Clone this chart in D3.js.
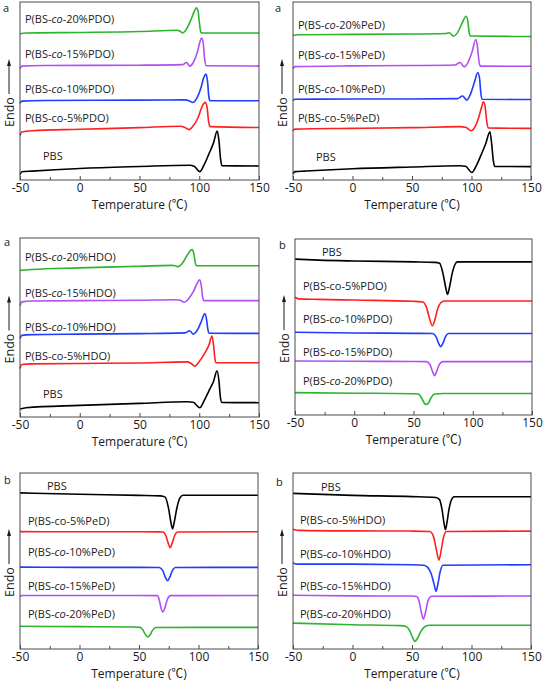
<!DOCTYPE html>
<html><head><meta charset="utf-8">
<script src="https://cdn.jsdelivr.net/npm/d3@7"></script>
<style>body{margin:0;background:#fff}svg{display:block}</style>
</head><body>
<svg id="c" width="543" height="681"></svg>
<script>
// ---------------- DATA ----------------
const temperatureTicks = [-50, 0, 50, 100, 150];
const minorTemperatureTicks = [-25, 25, 75, 125];
const compositions = ["PBS", "5%", "10%", "15%", "20%"];
const diols = ["PDO", "PeD", "HDO"];

// Heating scans (a): [temperature (°C), heat flow (a.u., offset)]
const aPDO_PBS = [[-50,3.0],[-48.5,4.6],[-40,5.0],[0,6.5],[50,7.6],[92,8.3],[96,7.6],[100.5,4.7],[104,8.5],[108,14.5],[112,21],[115,27.5],[116.5,22],[117.8,12],[119,8.0],[150,7.9]];
const aPDO_5 = [[-50,25.0],[-48.5,27.0],[-40,27.7],[0,28.5],[50,29.4],[84,30.2],[88,29.5],[91.5,28.3],[95,30.5],[99,35],[102.5,41.5],[105,43.6],[106.5,41],[107.8,33],[109,30],[150,29.5]];
const aPDO_10 = [[-50,43.0],[-48.5,44.3],[-30,44.7],[50,44.9],[88,45.0],[91.5,44.5],[94.5,43.5],[98,46],[101.5,52],[104,58],[105.7,59.5],[107,55],[108,47],[109,44.6],[150,44.5]];
const aPDO_15 = [[-50,62.6],[-48.5,64.0],[-30,64.3],[50,64.5],[86,64.8],[89.5,66.0],[92,64.0],[95,66],[98.5,72],[100.5,77.5],[102,79.8],[103.3,77],[104.5,68],[105.8,64.2],[150,64.0]];
const aPDO_20 = [[-50,82.2],[-45,82.6],[0,82.9],[50,83.4],[81,84.1],[84,83.6],[86,82.6],[89,84.5],[93,90],[96,95],[97.6,96.8],[99,95],[100.2,88],[101.3,83],[103,82.6],[150,82.6]];

const aPeD_PBS = [[-50,3.5],[-48.5,4.7],[-40,5.0],[0,6.3],[50,7.3],[90,8.0],[95,7.7],[100.3,4.2],[104,8],[108,14],[112,20.5],[115.5,27.1],[117,20],[118.3,11],[119.5,7.6],[150,7.5]];
const aPeD_5 = [[-50,27.6],[-48.5,28.6],[0,29.0],[50,29.4],[90,30.0],[95,29.6],[99.7,27.7],[103,30],[106,35],[108.5,41],[110,43.9],[111.5,41],[112.8,33],[114,29.3],[150,29.0]];
const aPeD_10 = [[-50,44.6],[-48.5,45.4],[0,45.5],[50,45.5],[88,45.7],[92.5,47.2],[96,44.9],[99,48],[102.5,55],[105.3,60.4],[106.8,57],[107.8,49],[108.8,45.4],[150,45.2]];
const aPeD_15 = [[-50,62.6],[-48.5,63.7],[0,64.1],[50,64.3],[86,64.6],[90.5,66.0],[93.8,63.6],[97,66],[100.5,72],[103.6,78.9],[105,75],[106.2,67],[107.3,64.0],[150,63.9]];
const aPeD_20 = [[-50,81.3],[-45,81.6],[0,81.8],[50,82.0],[78,82.3],[81.3,82.7],[84.9,80.8],[88,82.5],[92,88],[95.5,92.0],[97,89],[98,83],[99.2,80.9],[150,80.6]];

const aHDO_PBS = [[-50,4.5],[-45,5.2],[0,6.5],[50,7.6],[90,8.5],[95,8.2],[100.4,5.2],[104,9],[108,14.5],[112,20],[114.9,25.8],[116.5,20],[117.7,11],[119,8.1],[150,8.0]];
const aHDO_5 = [[-50,27.1],[-48.5,29.3],[-40,29.7],[0,29.9],[50,30.2],[90,30.8],[93,30],[96.3,28.4],[100,31],[104,35],[108,40],[110.7,45.2],[112,40],[113,33],[114,30.4],[150,30.3]];
const aHDO_10 = [[-50,43.9],[-48.5,45.6],[-40,46.0],[0,46.3],[50,46.6],[88,47.0],[92,48.2],[94.9,46.3],[98,48],[101.5,53],[104.6,57.6],[106,55],[107.2,49],[108.4,46.8],[150,46.7]];
const aHDO_15 = [[-50,62.1],[-48.5,64.3],[-40,64.8],[0,65.0],[50,65.2],[80,65.5],[84,65.2],[87.5,64.1],[91,66],[95,70],[98.5,75],[100.4,76.6],[101.8,73],[102.8,67],[104,65.0],[150,65.0]];
const aHDO_20 = [[-50,81.9],[-40,82.4],[0,83.3],[50,84.2],[77,84.7],[80,84.5],[82.3,84.0],[86,86],[90,90.5],[94,93.5],[95.5,91],[96.7,86],[97.8,84.5],[150,84.5]];

// Cooling scans (b)
const bPDO_PBS = [[-50,88.6],[-30,88.0],[0,87.5],[50,87.0],[68,86.7],[72,86.2],[75,80],[77.3,72],[78.7,68.5],[80.2,72],[82.5,80],[85,85.5],[87,87.0],[150,87.0]];
const bPDO_5 = [[-50,66.9],[-47,66.0],[-30,65.7],[0,65.3],[50,64.6],[58,64.2],[61,61],[63.5,55],[65.8,50.7],[68,54],[70.5,60.5],[73,63.8],[76,64.8],[150,64.8]];
const bPDO_10 = [[-50,47.0],[0,46.6],[50,46.4],[66,46.3],[69,44.5],[71.3,40.5],[73,38.8],[74.7,40.5],[77,44.5],[79.5,46.3],[150,46.3]];
const bPDO_15 = [[-50,30.7],[0,30.5],[50,30.4],[61,30.3],[64,28.5],[66.2,24.5],[67.8,22.4],[69.4,24.5],[71.6,28.5],[74.5,30.3],[150,30.3]];
const bPDO_20 = [[-50,12.7],[0,12.4],[50,12.1],[54,11.9],[57,9.5],[59.3,6.6],[61,6.0],[62.8,7],[65,10],[68,11.9],[75,12.2],[150,12.2]];

const bPeD_PBS = [[-50,88.7],[0,87.9],[50,87.3],[68,87.0],[72,86.3],[74.8,80],[76.8,72],[78.2,68.2],[79.6,72],[81.8,80],[84.5,86],[87,87.4],[150,87.4]];
const bPeD_5 = [[-50,66.7],[0,66.6],[50,66.6],[70,66.5],[72.5,64.5],[74.6,60],[76.2,57.6],[77.8,60],[80,64.5],[82.5,66.5],[150,66.6]];
const bPeD_10 = [[-50,46.5],[0,46.4],[50,46.4],[67,46.3],[70,44.5],[72.3,40.5],[74,38.8],[75.7,40.5],[78,44.5],[80.5,46.3],[150,46.4]];
const bPeD_15 = [[-50,29.8],[-48,30.4],[0,30.4],[50,30.4],[65.5,30.3],[67,28],[68.4,23.5],[70,21.0],[71.8,23.5],[74,28.5],[76.5,30.3],[150,30.4]];
const bPeD_20 = [[-50,12.9],[0,12.7],[45,12.5],[51,12.3],[53.5,10.5],[55.8,7.8],[57.4,6.9],[59,7.8],[61.3,10.5],[64,12.2],[150,12.3]];

const bHDO_PBS = [[-50,88.4],[0,87.3],[50,86.6],[70,86.1],[73,85],[75.3,79],[76.9,71.5],[78.1,67.8],[79.3,71.5],[81,79],[83,84.5],[85.5,86.5],[150,86.5]];
const bHDO_5 = [[-50,68.1],[-45,67.4],[0,67.1],[50,67.0],[65,66.8],[68,64],[70.3,57],[72.6,50.5],[74.5,56],[76.5,63.5],[79,66.8],[150,67.0]];
const bHDO_10 = [[-50,48.9],[-46,48.2],[0,48.2],[50,47.9],[60,47.6],[63,46.5],[66,43],[68.5,37],[70.2,32.8],[71.8,37],[73.7,44],[76,47.6],[150,47.9]];
const bHDO_15 = [[-50,30.5],[0,30.2],[50,30.1],[54,29.8],[56,27],[57.8,21],[59.6,17.0],[61.4,21],[63.5,27.5],[66.5,30],[150,30.1]];
const bHDO_20 = [[-50,14.7],[0,13.8],[40,13.3],[45,12.8],[48,10.5],[50.5,6.5],[52.4,4.3],[54.5,6],[57.5,10],[61,12.8],[65,13.5],[150,13.5]];

// ---------------- LAYOUT ----------------
const colors = ["#000000", "#ff1f1f", "#1f3cff", "#b24ef2", "#2cb42c"];
const panels = [
  {box:[20,2,259,180], letter:"a", lp:[3,12], diol:0, curves:[aPDO_PBS,aPDO_5,aPDO_10,aPDO_15,aPDO_20], ly:[13.5,34.7,51,70.6,90.4], lx:[23,5]},
  {box:[293,2,531,180], letter:"a", lp:[275,12], diol:1, curves:[aPeD_PBS,aPeD_5,aPeD_10,aPeD_15,aPeD_20], ly:[13.1,34.7,51,70.2,87.1], lx:[23,5]},
  {box:[20,238,259,417], letter:"a", lp:[4,246], diol:2, curves:[aHDO_PBS,aHDO_5,aHDO_10,aHDO_15,aHDO_20], ly:[12.8,34.1,50.4,69.4,89.6], lx:[23,5]},
  {box:[295,239,532,415], letter:"b", lp:[279,249], diol:0, curves:[bPDO_PBS,bPDO_5,bPDO_10,bPDO_15,bPDO_20], ly:[92.4,73.3,54.4,36.0,19.5], lx:[27,8]},
  {box:[20,473,258,649], letter:"b", lp:[4,484], diol:1, curves:[bPeD_PBS,bPeD_5,bPeD_10,bPeD_15,bPeD_20], ly:[92.8,72.9,55.3,35.8,19.9], lx:[27,8]},
  {box:[293,473,531,649], letter:"b", lp:[276,486], diol:2, curves:[bHDO_PBS,bHDO_5,bHDO_10,bHDO_15,bHDO_20], ly:[91.9,73,54.1,35.8,19.8], lx:[28,7]}
];

const FONT = "'Open Sans', 'Noto Sans', sans-serif";
const CJK = "'Noto Sans CJK SC', 'Noto Sans CJK JP', sans-serif";
const svg = d3.select("#c");
const txtColor = "#1a1a1a";

panels.forEach(p => {
  const [x0,y0,x1,y1] = p.box;
  const x = d3.scaleLinear().domain([-50,150]).range([x0,x1]);
  const y = d3.scaleLinear().domain([0,100]).range([y1,y0]);
  const g = svg.append("g");

  // curves
  const line = d3.line().x(d=>x(d[0])).y(d=>y(d[1])).curve(d3.curveMonotoneX);
  p.curves.forEach((c,i) => {
    g.append("path").datum(c).attr("d", line)
      .attr("fill","none").attr("stroke",colors[i]).attr("stroke-width",1.6)
      .attr("stroke-linejoin","round");
  });

  // frame
  g.append("rect").attr("x",x0).attr("y",y0).attr("width",x1-x0).attr("height",y1-y0)
    .attr("fill","none").attr("stroke","#4a4a4a").attr("stroke-width",1);

  // axes
  const ax = g.append("g").attr("transform",`translate(0,${y1})`)
    .call(d3.axisBottom(x).tickValues(temperatureTicks).tickSize(-4).tickPadding(3.5).tickFormat(d=>String(d)));
  ax.select(".domain").remove();
  ax.selectAll("line").attr("stroke","#4a4a4a");
  ax.selectAll("text").attr("font-family",FONT).attr("font-size",12).attr("fill",txtColor);
  const mx = g.append("g").attr("transform",`translate(0,${y1})`)
    .call(d3.axisBottom(x).tickValues(minorTemperatureTicks).tickSize(-3).tickFormat(""));
  mx.select(".domain").remove();
  mx.selectAll("line").attr("stroke","#4a4a4a");

  // x title
  const t = g.append("text").attr("x",(x0+x1)/2).attr("y",y1+28.5).attr("text-anchor","middle")
    .attr("font-family",FONT).attr("font-size",12).attr("fill",txtColor);
  t.append("tspan").text("Temperature (");
  t.append("tspan").attr("font-family",CJK).text("℃");
  t.append("tspan").text(")");

  // Endo with arrow
  const cy = (y0+y1)/2;
  const ex = x0-11;
  g.append("line").attr("x1",ex).attr("x2",ex).attr("y1",cy-27).attr("y2",cy+3)
    .attr("stroke",txtColor).attr("stroke-width",1);
  g.append("path").attr("d",`M${ex},${cy-32} L${ex-2},${cy-25} L${ex+2},${cy-25} Z`).attr("fill",txtColor);
  g.append("text").attr("transform",`translate(${ex+4.5},${cy+21}) rotate(-90)`)
    .attr("text-anchor","middle").attr("font-family",FONT).attr("font-size",12.5).attr("fill",txtColor)
    .text("Endo");

  // panel letter
  g.append("text").attr("x",p.lp[0]).attr("y",p.lp[1]).attr("font-family",FONT)
    .attr("font-size",11).attr("fill",txtColor).text(p.letter);

  // labels
  compositions.forEach((comp,i) => {
    const ty = y(p.ly[i]);
    const tx = x0 + (i===0 ? p.lx[0] : p.lx[1]);
    const te = g.append("text").attr("x",tx).attr("y",ty).attr("dy","0.36em")
      .attr("font-family",FONT).attr("font-size",11).attr("fill",txtColor);
    if (i===0) { te.text("PBS"); return; }
    te.append("tspan").text("P(BS-");
    te.append("tspan").attr("font-style", i===1 ? "normal" : "italic").text("co");
    te.append("tspan").text("-" + comp + diols[p.diol] + ")");
  });
});
</script>
</body></html>
